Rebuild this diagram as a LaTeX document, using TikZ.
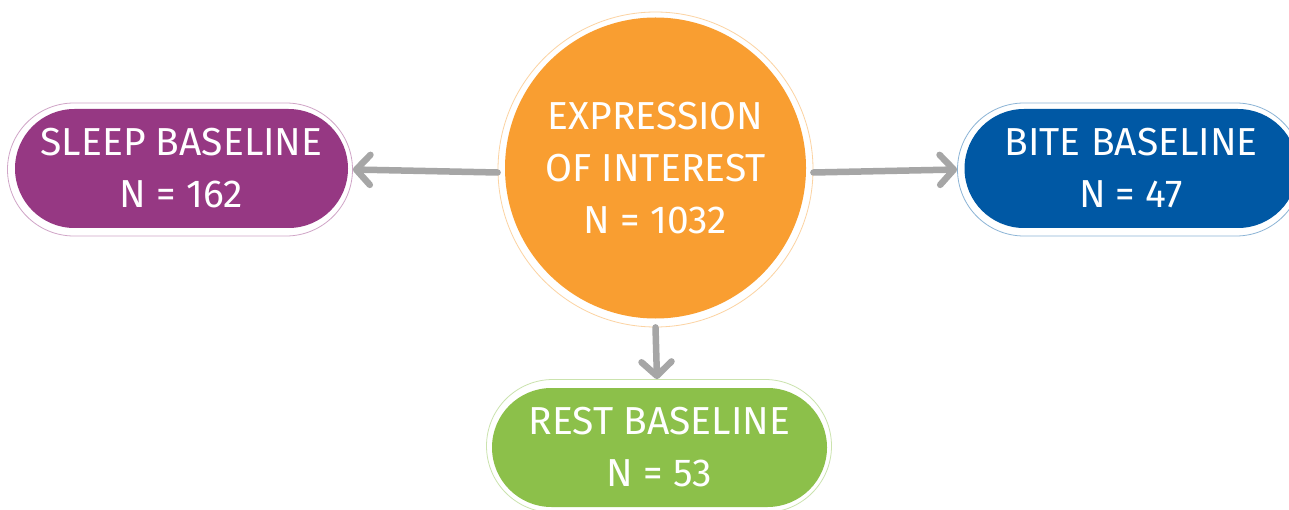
\documentclass[tikz,border=0pt]{standalone}
\usepackage{fontspec}
\setmainfont{Fira Sans}
\usetikzlibrary{arrows.meta}
\definecolor{cpurple}{RGB}{150,56,131}
\definecolor{cblue}{RGB}{0,88,164}
\definecolor{cgreen}{RGB}{140,192,74}
\definecolor{corange}{RGB}{249,158,49}
\definecolor{cgray}{RGB}{166,166,166}
\tikzset{
  pill/.style={rectangle, rounded corners=59.5pt, minimum width=333pt, minimum height=119pt,
    inner sep=0pt, text=white, align=center, font=\fontsize{39}{52}\selectfont},
  pillring/.style={rectangle, rounded corners=66.5pt, minimum width=345pt, minimum height=133pt,
    inner sep=0pt, fill=white, line width=0.8pt},
  arr/.style={draw=cgray, line width=6.5pt, line cap=round,
    -{Straight Barb[length=14pt, width=30pt, round]}},
}
\begin{document}
\begin{tikzpicture}[x=1pt,y=-1pt]
\useasboundingbox (0,0) rectangle (1289,510);
\fill[white] (0,0) rectangle (1289,510);
% rings
\node[pillring, draw=cpurple!45] (sleepring) at (180,169.5) {};
\node[pillring, draw=cblue!45] (bitering) at (1130,169.5) {};
\node[pillring, draw=cgreen!45] (restring) at (659,446) {};
\node[circle, minimum size=315pt, inner sep=0pt, draw=corange!45, line width=0.8pt, fill=white] (ering) at (655.5,169.5) {};
% fills
\node[pill, fill=cpurple] (sleep) at (181.5,168.5) {SLEEP BASELINE\\N = 162};
\node[pill, fill=cblue] (bite) at (1131,168.5) {BITE BASELINE\\N = 47};
\node[pill, fill=cgreen, minimum width=335pt] (rest) at (659.5,447.5) {REST BASELINE\\N = 53};
\node[circle, minimum size=301pt, inner sep=0pt, fill=corange, text=white, align=center,
  font=\fontsize{39}{52}\selectfont] (eoi) at (655.5,168) {EXPRESSION\\OF INTEREST\\N = 1032};
% arrows
\draw[arr] ([yshift=-3pt]ering.west) -- (sleepring.east);
\draw[arr] ([yshift=-3pt]ering.east) -- (bitering.west);
\draw[arr] (ering.south) -- ([xshift=-2pt]restring.north);
\end{tikzpicture}
\end{document}
